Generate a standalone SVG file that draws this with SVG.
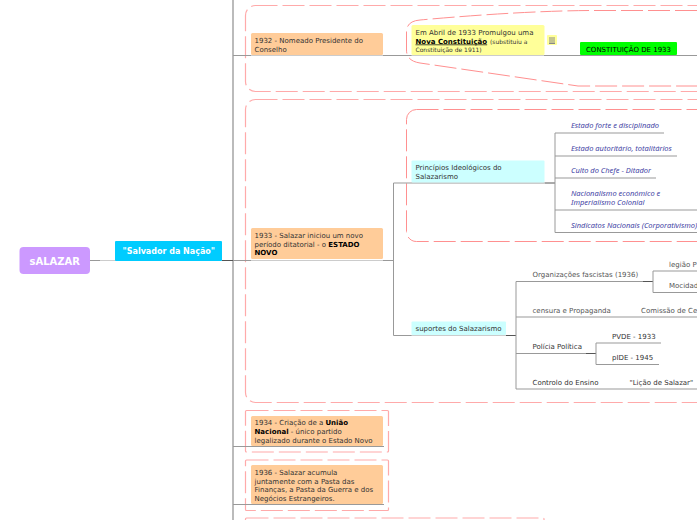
<svg xmlns="http://www.w3.org/2000/svg" width="697" height="520" viewBox="0 0 697 520">
<style>
text{font-family:"DejaVu Sans","Liberation Sans",sans-serif;font-size:7px;fill:#333}
.k{fill:#000}
.b{font-weight:bold}
.s{font-size:6px}
.h{font-family:"Noto Sans","Liberation Sans",sans-serif;font-style:italic;font-size:7.5px;fill:#4444a5}
.g{fill:#555}
.c{fill:none;stroke:#999;stroke-width:1}
.l{fill:none;stroke:#ccc;stroke-width:1}
.d{fill:none;stroke:#555;stroke-width:1}
.o{fill:none;stroke:#ffaaaa;stroke-width:1.2;stroke-dasharray:22 5}
.i{fill:none;stroke:#ff9090;stroke-width:1;stroke-dasharray:22 5}
</style>
<rect width="697" height="520" fill="#fff"/>
<g id="frames">
<rect class="o" x="245.5" y="5.5" width="600" height="86" rx="10"/>
<path class="i" d="M697 10.5H590Q520 11 420 20Q406.500 21 406.500 32V50Q406.500 61 420 63L578 86H697"/>
<rect class="o" x="245.500" y="99.500" width="600" height="303" rx="10"/>
<rect class="i" x="406.500" y="109.500" width="400" height="132" rx="10"/>
<rect class="o" x="245.500" y="410.500" width="143" height="41.500" rx="1"/>
<rect class="o" x="245.500" y="460" width="143" height="50.500" rx="1"/>
<rect class="o" x="245.500" y="518" width="298.500" height="20" rx="1"/>
</g>
<g id="connectors">
<path d="M233 0V520" fill="none" stroke="#aaa" stroke-width="1.600"/>
<path class="c" d="M90 260.500H222M233 55.500H697M233 260.500H393.500M233 446.500H384M233 504.500H384"/>
<path class="d" d="M222 260.500H233"/>
<path class="c" d="M393.500 183V335.500M393.500 183H545M393.500 335.500H506"/>
<path class="d" d="M545 183H555M506 335.500H516"/>
<path class="c" d="M555 133V232.500M555 133H664M555 156H677M555 178H656M555 210H697M555 232.500H697"/>
<path class="c" d="M516 281.500V389M516 281.500H643M516 317H697M516 353.500H586M516 389H697"/>
<path class="d" d="M643 281.500H653M586 353.500H596"/>
<path class="c" d="M653 271V292.500M653 271H697M653 292.500H697M596 343V364.500M596 343H661M596 364.500H659"/>
<path class="l" d="M100 260.500H222M251 55.500H383M411.500 55.500H544M251 260.500H383M411.500 183H544M411.500 335.500H506"/>
</g>
<g id="n-root"><rect x="19.500" y="247" width="70.500" height="27" rx="4" fill="#cc99ff"/><text x="54.700" y="264.500" text-anchor="middle" class="b" style="font-size:10px;fill:#fff">sALAZAR</text></g>
<g id="n-salvador"><rect x="115" y="241" width="107" height="20" rx="1" fill="#00ccff"/><text x="168.800" y="254" text-anchor="middle" class="b" style="font-size:8px;fill:#fff">"Salvador da Nação"</text></g>
<g id="n-1932"><rect x="251" y="33" width="132" height="22" rx="1.500" fill="#ffcc99"/><text x="254.500" y="43">1932 - Nomeado Presidente do</text><text x="254.500" y="52">Conselho</text></g>
<g id="n-1933-const"><rect x="411.500" y="25" width="133" height="30" rx="1.500" fill="#ffff99"/><text x="415.500" y="35">Em Abril de 1933 Promulgou uma</text><text x="415.500" y="43.500" class="k b" text-decoration="underline">Nova Constituição </text><text x="490" y="43.500" class="s">(substituiu a</text><text x="415.500" y="52" class="s">Constituição de 1911)</text></g>
<g id="n-icon"><rect x="547" y="35" width="10" height="10" rx="1" fill="#ffff99"/><path d="M549 38H555M549 40H555M549 42H555M549 43.500H555" stroke="#888" stroke-width="1"/></g>
<g id="n-const"><rect x="580" y="42" width="97" height="13" rx="1" fill="#00ff00"/><text x="628.500" y="52" text-anchor="middle" class="k">CONSTITUIÇÃO DE 1933</text></g>
<g id="n-1933"><rect x="251" y="228" width="132" height="31" rx="1.500" fill="#ffcc99"/><text x="254.500" y="238">1933 - Salazar iniciou um novo</text><text x="254.500" y="246.500">período ditatorial - o <tspan class="k b">ESTADO</tspan></text><text x="254.500" y="255" class="k b">NOVO</text></g>
<g id="n-principios"><rect x="411.500" y="160.500" width="133" height="22" rx="1" fill="#ccffff"/><text x="415.500" y="170">Princípios Ideológicos do</text><text x="415.500" y="179">Salazarismo</text></g>
<g id="n-p1"><text class="h" x="571" y="128">Estado forte e disciplinado</text></g>
<g id="n-p2"><text class="h" x="571" y="151">Estado autoritário, totalitários</text></g>
<g id="n-p3"><text class="h" x="571" y="173">Culto do Chefe - Ditador</text></g>
<g id="n-p4"><text class="h" x="571" y="196">Nacionalismo económico e</text><text class="h" x="571" y="205">Imperialismo Colonial</text></g>
<g id="n-p5"><text class="h" x="571" y="228">Sindicatos Nacionais (Corporativismo)</text></g>
<g id="n-suportes"><rect x="411.500" y="321.500" width="94.500" height="13.500" rx="1" fill="#ccffff"/><text x="415.500" y="331">suportes do Salazarismo</text></g>
<g id="n-org"><text class="g" x="532.500" y="277">Organizações fascistas (1936)</text></g>
<g id="n-legiao"><text class="g" x="669" y="267">legião P</text></g>
<g id="n-mocidade"><text class="g" x="669" y="288">Mocidad</text></g>
<g id="n-censura"><text class="g" x="532.500" y="313">censura e Propaganda</text></g>
<g id="n-comissao"><text class="g" x="641" y="313">Comissão de Ce</text></g>
<g id="n-policia"><text x="532.500" y="349">Polícia Política</text></g>
<g id="n-pvde"><text x="612" y="339">PVDE - 1933</text></g>
<g id="n-pide"><text x="612" y="360">pIDE - 1945</text></g>
<g id="n-ensino"><text x="532.500" y="385">Controlo do Ensino</text></g>
<g id="n-licao"><text x="629.500" y="385">"Lição de Salazar"</text></g>
<g id="n-1934"><rect x="251" y="416" width="132" height="30" rx="1.500" fill="#ffcc99"/><text x="254.500" y="425">1934 - Criação de a <tspan class="k b">União</tspan></text><text x="254.500" y="434"><tspan class="k b">Nacional</tspan>  - único partido</text><text x="254.500" y="442.500">legalizado durante o Estado Novo</text></g>
<g id="n-1936"><rect x="251" y="465" width="132" height="39" rx="1.500" fill="#ffcc99"/><text x="254.500" y="475">1936 - Salazar acumula</text><text x="254.500" y="483.500">juntamente com a Pasta das</text><text x="254.500" y="492">Finanças, a Pasta da Guerra e dos</text><text x="254.500" y="500.500">Negócios Estrangeiros.</text></g>
</svg>
